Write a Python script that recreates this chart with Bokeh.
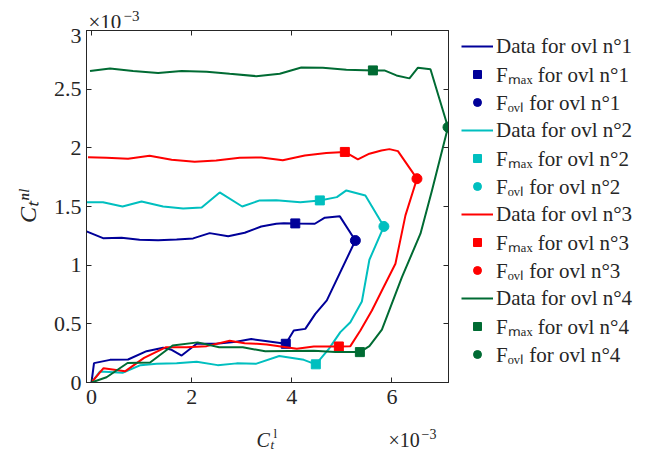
import math
from bokeh.plotting import figure
from bokeh.layouts import column, row
from bokeh.models import Range1d, LinearAxis, FixedTicker, Legend, LegendItem, Label
from bokeh.embed import file_html
from bokeh.resources import INLINE

# values in units of 1e-3 (axes carry the x10^-3 multiplier)
ovl1_x = [0, 0.05, 0.37, 0.73, 1.10, 1.43, 1.60, 1.80, 2.10, 2.49, 2.89, 3.19, 3.51, 3.88, 4.04, 4.27, 4.47, 4.70, 5.27,
          4.96, 4.66, 4.46, 4.07, 3.84, 3.69, 3.39, 3.06, 2.73, 2.36, 2.03, 1.70, 1.33, 0.96, 0.60, 0.23, -0.10]
ovl1_y = [0, 0.165, 0.193, 0.196, 0.267, 0.296, 0.279, 0.230, 0.330, 0.330, 0.347, 0.370, 0.352, 0.330, 0.443, 0.457, 0.585, 0.700, 1.210,
          1.416, 1.405, 1.353, 1.356, 1.358, 1.353, 1.330, 1.276, 1.247, 1.273, 1.228, 1.219, 1.213, 1.216, 1.234, 1.230, 1.288]

ovl2_x = [0, 0.17, 0.62, 0.98, 1.30, 1.70, 2.10, 2.52, 2.90, 3.28, 3.75, 4.24, 4.48, 4.74, 4.97, 5.17, 5.40, 5.55, 5.84,
          5.47, 5.09, 4.90, 4.56, 4.17, 3.69, 3.36, 3.01, 2.56, 2.20, 1.83, 1.43, 1.00, 0.62, 0.23, -0.10]
ovl2_y = [0, 0.094, 0.083, 0.148, 0.159, 0.165, 0.176, 0.148, 0.163, 0.159, 0.226, 0.193, 0.155, 0.287, 0.429, 0.514, 0.690, 1.046, 1.330,
          1.594, 1.637, 1.580, 1.552, 1.537, 1.554, 1.552, 1.500, 1.620, 1.492, 1.483, 1.500, 1.543, 1.500, 1.537, 1.537]

ovl3_x = [0, 0.24, 0.67, 1.05, 1.48, 1.90, 2.30, 2.76, 3.06, 3.30, 3.50, 4.10, 4.44, 4.94, 5.17, 5.37, 5.60, 5.80, 6.07, 6.27, 6.50,
          6.12, 5.95, 5.79, 5.55, 5.32, 5.06, 4.69, 4.26, 3.82, 3.39, 2.96, 2.49, 2.06, 1.60, 1.16, 0.73, 0.30, -0.07]
ovl3_y = [0, 0.122, 0.095, 0.210, 0.300, 0.301, 0.310, 0.355, 0.335, 0.330, 0.324, 0.287, 0.307, 0.307, 0.310, 0.443, 0.614, 0.784, 1.012, 1.424, 1.737,
          1.972, 1.989, 1.978, 1.950, 1.901, 1.965, 1.955, 1.935, 1.895, 1.918, 1.915, 1.893, 1.881, 1.898, 1.933, 1.907, 1.915, 1.920]

ovl4_x = [0, 0.30, 0.72, 1.17, 1.62, 2.12, 2.55, 3.02, 3.47, 4.44, 4.87, 5.36, 5.55, 5.80, 6.20, 6.57, 6.80, 7.12,
          6.77, 6.52, 6.35, 6.09, 5.85, 5.62, 5.09, 4.62, 4.19, 3.76, 3.29, 2.76, 2.30, 1.80, 1.33, 0.83, 0.37, -0.03]
ovl4_y = [0, 0.045, 0.166, 0.171, 0.315, 0.342, 0.301, 0.300, 0.266, 0.270, 0.260, 0.259, 0.310, 0.450, 0.898, 1.268, 1.637, 2.176,
          2.670, 2.683, 2.592, 2.617, 2.660, 2.660, 2.666, 2.683, 2.685, 2.631, 2.611, 2.631, 2.649, 2.654, 2.637, 2.654, 2.677, 2.654]

fmax_x = [[4.07, 3.88], [4.56, 4.48], [5.06, 4.94], [5.62, 5.36]]
fmax_y = [[1.356, 0.330], [1.552, 0.155], [1.965, 0.307], [2.660, 0.259]]
fovl_x = [5.27, 5.84, 6.50, 7.12]
fovl_y = [1.210, 1.330, 1.737, 2.176]

series_x = [ovl1_x, ovl2_x, ovl3_x, ovl4_x]
series_y = [ovl1_y, ovl2_y, ovl3_y, ovl4_y]
colors = ["#000099", "#00bfbf", "#ff0000", "#006b33"]
names = ["1", "2", "3", "4"]

x_ticks = [0, 2, 4, 6]
y_ticks = [0, 0.5, 1, 1.5, 2, 2.5, 3]

FONT = "Liberation Serif"
AX = "#262626"
TOTAL_W = 650
TOP_H = 28
P_W = 86 + 362 + 11
P_H = 2 + 352 + 37
BOT_H = 449 - TOP_H - P_H

# ---------------- main axes ----------------
p = figure(width=P_W, height=P_H, output_backend="svg", toolbar_location=None,
           x_range=Range1d(-0.1, 7.13), y_range=Range1d(0, 3),
           min_border_left=86, min_border_top=2, min_border_bottom=37, min_border_right=11)
p.grid.visible = False
p.outline_line_color = AX
p.outline_line_width = 1
p.background_fill_color = "white"
p.border_fill_color = "white"

def style_axis(ax, labels=True):
    ax.axis_line_color = AX
    ax.major_tick_line_color = AX
    ax.major_tick_in = 5
    ax.major_tick_out = 0
    ax.minor_tick_line_color = None
    ax.major_label_text_font = FONT
    ax.major_label_text_color = AX
    if labels:
        ax.major_label_text_font_size = "22px"
    else:
        ax.major_label_text_alpha = 0
        ax.major_label_text_font_size = "1px"
        ax.major_label_standoff = 0

p.xaxis.ticker = FixedTicker(ticks=x_ticks)
p.yaxis.ticker = FixedTicker(ticks=y_ticks)
p.xaxis.major_label_overrides = {t: f"{t:g}" for t in x_ticks}
p.yaxis.major_label_overrides = {t: f"{t:g}" for t in y_ticks}
style_axis(p.xaxis[0])
style_axis(p.yaxis[0])
p.xaxis.major_label_standoff = 7
p.yaxis.major_label_standoff = 5

p.yaxis.axis_label = "Cₜⁿˡ"
p.yaxis.axis_label_text_font = FONT
p.yaxis.axis_label_text_font_size = "24px"
p.yaxis.axis_label_text_font_style = "italic"
p.yaxis.axis_label_text_color = AX
p.yaxis.axis_label_standoff = 10

top = LinearAxis(ticker=FixedTicker(ticks=x_ticks))
right = LinearAxis(ticker=FixedTicker(ticks=y_ticks))
style_axis(top, False)
style_axis(right, False)
p.add_layout(top, "above")
p.add_layout(right, "right")

for i in range(4):
    p.line(series_x[i], series_y[i], line_color=colors[i], line_width=2)
    p.scatter(fmax_x[i], fmax_y[i], marker="square", size=9, fill_color=colors[i], line_color=colors[i])
    p.scatter([fovl_x[i]], [fovl_y[i]], marker="circle", size=10, fill_color=colors[i], line_color=colors[i])

# ---------------- blank strips ----------------
def blank(w, h, xr=(0, 1)):
    f = figure(width=w, height=h, output_backend="svg", toolbar_location=None,
               x_axis_type=None, y_axis_type=None, x_range=Range1d(*xr), y_range=Range1d(0, 1),
               min_border=0, outline_line_color=None)
    f.grid.visible = False
    f.background_fill_color = "white"
    f.border_fill_color = "white"
    return f

# legend panel: the series are re-plotted outside its view, only to feed the legend glyphs
pleg = blank(TOTAL_W - P_W, P_H, xr=(100, 101))
items = []
for i in range(4):
    ln = pleg.line(series_x[i], series_y[i], line_color=colors[i], line_width=2)
    sq = pleg.scatter(fmax_x[i], fmax_y[i], marker="square", fill_color=colors[i], line_color=colors[i])
    ci = pleg.scatter([fovl_x[i]], [fovl_y[i]], marker="circle", fill_color=colors[i], line_color=colors[i])
    items.append(LegendItem(label=f"Data for ovl n°{names[i]}", renderers=[ln]))
    items.append(LegendItem(label=f"Fₘₐₓ for ovl n°{names[i]}", renderers=[sq]))
    items.append(LegendItem(label=f"Fₒᵥₗ for ovl n°{names[i]}", renderers=[ci]))
legend = Legend(items=items, location="top_left", margin=2, padding=0,
                border_line_alpha=0, background_fill_alpha=0,
                glyph_width=32, glyph_height=20, label_height=28, spacing=0,
                label_standoff=3, label_text_font=FONT, label_text_font_size="21px",
                label_text_color=AX)
pleg.add_layout(legend, "center")

ptop = blank(TOTAL_W, TOP_H)
pbot = blank(TOTAL_W, BOT_H)

def lab(f, text, x, y, size, italic=False):
    f.add_layout(Label(text=text, x=x, y=y, x_units="screen", y_units="screen",
                       text_font=FONT, text_font_size=size, text_color=AX,
                       text_font_style="italic" if italic else "normal",
                       text_baseline="alphabetic", text_align="left"))

# axis multipliers and x label
lab(ptop, "×10", 88, 6.7, "21px")
lab(ptop, "−3", 123, 12.8, "15px")

lab(pbot, "C", 256, 9.5, "20px", italic=True)
lab(pbot, "t", 270, 5, "13px", italic=True)
lab(pbot, "l", 273, 16.5, "13px")
lab(pbot, "×10", 388, 9.5, "20px")
lab(pbot, "−3", 421, 15.5, "14px")

layout = column(ptop, row(p, pleg), pbot)
open("out.html", "w").write(file_html(layout, INLINE))
